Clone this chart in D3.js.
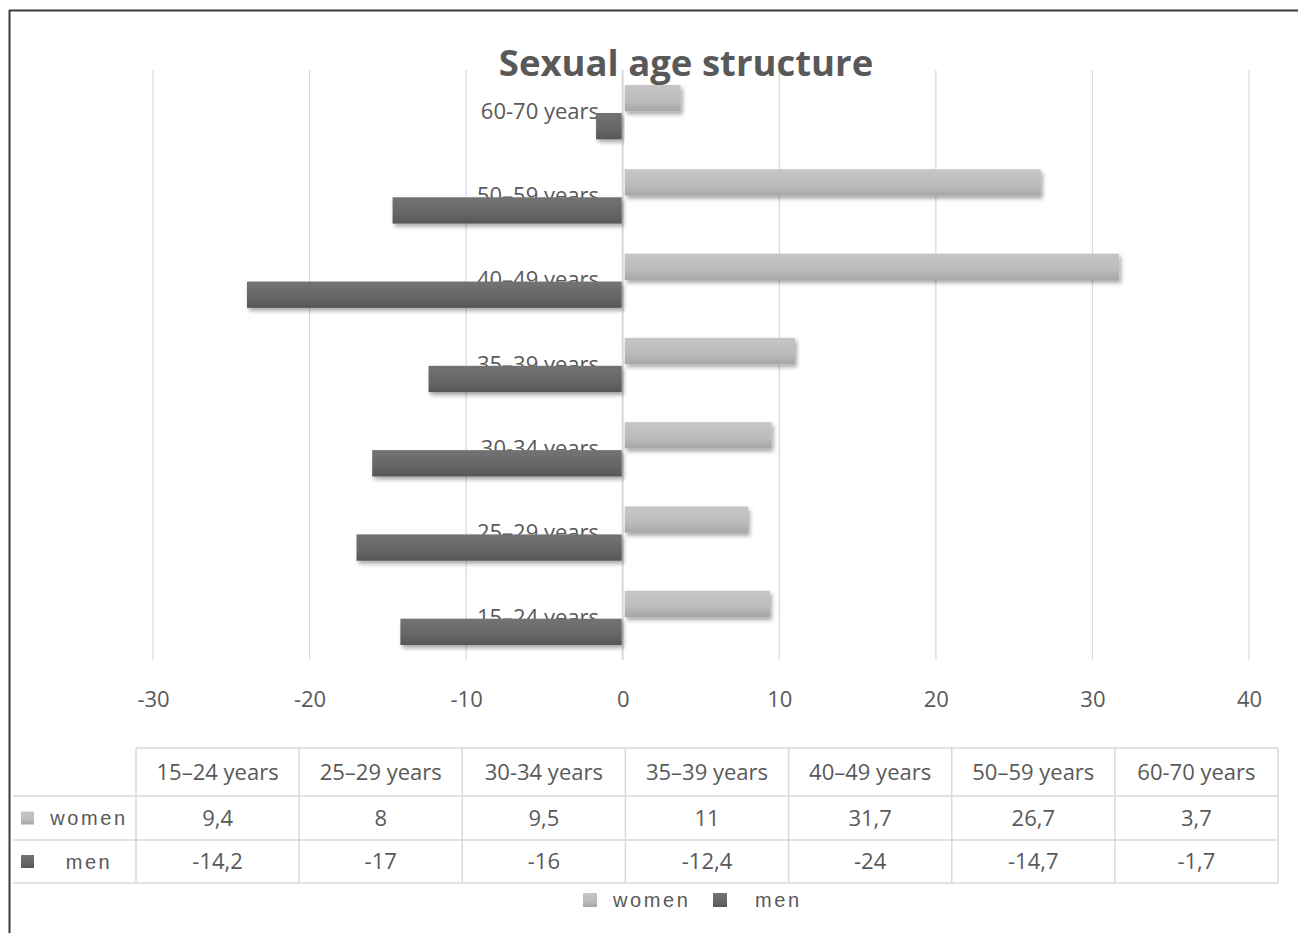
<!DOCTYPE html>
<html>
<head>
<meta charset="utf-8">
<script src="https://cdn.jsdelivr.net/npm/d3@7"></script>
<style>
html,body{margin:0;padding:0;background:#fff;}
svg{display:block;}
</style>
</head>
<body>
<svg id="chart" width="1298" height="933"></svg>
<script>
// ---- data ----
const categories = ["15\u201324 years","25\u201329 years","30-34 years","35\u201339 years","40\u201349 years","50\u201359 years","60-70 years"];
const women = [9.4, 8, 9.5, 11, 31.7, 26.7, 3.7];
const men = [-14.2, -17, -16, -12.4, -24, -14.7, -1.7];
const seriesNames = ["women","men"];
const xTicks = [-30,-20,-10,0,10,20,30,40];
const title = "Sexual age structure";

const svg = d3.select("#chart");
const txtColor = "#595959";
const gridColor = "#d9d9d9";
const FS = "22px";

// defs: gradients + shadow
const defs = svg.append("defs");
const gW = defs.append("linearGradient").attr("id","gW").attr("x1",0).attr("y1",0).attr("x2",0).attr("y2",1);
gW.append("stop").attr("offset","0%").attr("stop-color","#c6c6c6");
gW.append("stop").attr("offset","60%").attr("stop-color","#bcbcbc");
gW.append("stop").attr("offset","100%").attr("stop-color","#a6a6a6");
const gM = defs.append("linearGradient").attr("id","gM").attr("x1",0).attr("y1",0).attr("x2",0).attr("y2",1);
gM.append("stop").attr("offset","0%").attr("stop-color","#737373");
gM.append("stop").attr("offset","60%").attr("stop-color","#666666");
gM.append("stop").attr("offset","100%").attr("stop-color","#565656");
const f = defs.append("filter").attr("id","sh").attr("x","-10%").attr("y","-30%").attr("width","120%").attr("height","170%");
f.append("feDropShadow").attr("dx",2).attr("dy",3).attr("stdDeviation",2).attr("flood-color","#000").attr("flood-opacity",0.35);

// border
svg.append("line").attr("x1",9).attr("x2",1298).attr("y1",10.5).attr("y2",10.5).attr("stroke","#3a3a3a").attr("stroke-width",2);
svg.append("line").attr("x1",9.5).attr("x2",9.5).attr("y1",10).attr("y2",933).attr("stroke","#3a3a3a").attr("stroke-width",2);

// scales
const x = d3.scaleLinear().domain([-30,40]).range([153,1249]);
const yTop = 70, yBot = 660;
const y0 = d3.scaleBand().domain(categories.slice().reverse()).range([yTop,yBot]);
const y1 = d3.scaleBand().domain(seriesNames).range([15, y0.bandwidth()-15]).paddingInner(0.06);

// gridlines
svg.append("g").selectAll("line").data(xTicks).join("line")
  .attr("x1",d=>x(d)).attr("x2",d=>x(d)).attr("y1",yTop).attr("y2",yBot)
  .attr("stroke",gridColor).attr("stroke-width",d=>d===0?2:1.2);

// tick labels via axis
const ax = svg.append("g").attr("transform",`translate(0,${yBot})`)
  .call(d3.axisBottom(x).tickValues(xTicks).tickSize(0).tickPadding(31).tickFormat(d=>String(d)));
ax.select(".domain").remove();
ax.selectAll("text").attr("fill",txtColor).style("font-family","'Open Sans'").style("font-size",FS);

// title
svg.append("text").attr("x",686).attr("y",76).attr("text-anchor","middle")
  .attr("fill",txtColor).style("font-family","'Open Sans'").style("font-weight","bold").style("font-size","36.5px")
  .text(title);

// category labels (under bars)
svg.append("g").selectAll("text").data(categories).join("text")
  .attr("x",599).attr("y",d=>y0(d)+y0.bandwidth()/2 - 1).attr("dy","0.35em")
  .attr("text-anchor","end").attr("fill",txtColor)
  .style("font-family","'Open Sans'").style("font-size",FS).text(d=>d);

// bars
const rows = categories.map((c,i)=>({c, women:women[i], men:men[i]}));
const bars = svg.append("g");
seriesNames.forEach(s=>{
  bars.selectAll("rect."+s).data(rows).join("rect").attr("class",s)
    .attr("x",d=>s==="women"? x(0)+2 : x(d[s]))
    .attr("width",d=>s==="women"? x(d[s])-x(0)-2 : x(0)-1-x(d[s]))
    .attr("y",d=>y0(d.c)+y1(s))
    .attr("height",y1.bandwidth())
    .attr("fill",s==="women"?"url(#gW)":"url(#gM)")
    .attr("filter","url(#sh)");
});

// data table
const tTop=748, tH=796, tR1=840, tBot=883, tLeft=136, tRight=1278;
const col = d3.scaleBand().domain(categories).range([tLeft,tRight]);
const tg = svg.append("g");
tg.append("line").attr("x1",tLeft).attr("x2",tRight).attr("y1",tTop).attr("y2",tTop).attr("stroke",gridColor).attr("stroke-width",1.5);
[tH,tR1,tBot].forEach(yy=>tg.append("line").attr("x1",13).attr("x2",tRight).attr("y1",yy).attr("y2",yy).attr("stroke",gridColor).attr("stroke-width",1.5));
const vx = categories.map(c=>col(c)).concat([tRight]);
tg.selectAll("line.v").data(vx).join("line").attr("class","v")
  .attr("x1",d=>d).attr("x2",d=>d).attr("y1",tTop).attr("y2",tBot).attr("stroke",gridColor).attr("stroke-width",1.5);
tg.selectAll("text.h").data(categories).join("text").attr("class","h")
  .attr("x",d=>col(d)+col.bandwidth()/2).attr("y",(tTop+tH)/2).attr("dy","0.35em")
  .attr("text-anchor","middle").attr("fill",txtColor)
  .style("font-family","'Open Sans'").style("font-size",FS).text(d=>d);
const fmt = v => String(v).replace(".",",");
[[women,(tH+tR1)/2],[men,(tR1+tBot)/2]].forEach(([arr,cy])=>{
  tg.append("g").selectAll("text").data(arr).join("text")
    .attr("x",(d,i)=>col(categories[i])+col.bandwidth()/2).attr("y",cy).attr("dy","0.35em")
    .attr("text-anchor","middle").attr("fill",txtColor)
    .style("font-family","'Open Sans'").style("font-size",FS).text(d=>fmt(d));
});
// row labels with keys
const keyFill = {women:"url(#gW)", men:"url(#gM)"};
[["women",(tH+tR1)/2],["men",(tR1+tBot)/2]].forEach(([s,cy])=>{
  tg.append("rect").attr("x",21).attr("y",cy-6.5).attr("width",13).attr("height",13).attr("fill",keyFill[s]);
  tg.append("text").attr("x",89).attr("y",cy).attr("dy","0.35em").attr("text-anchor","middle")
    .attr("fill",txtColor).style("font-family","'Liberation Sans'").style("font-size","20px").style("letter-spacing","2.6px").text(s);
});

// legend
const lg = svg.append("g");
const legendItems = [{s:"women",kx:583,tx:613},{s:"men",kx:713,tx:755}];
legendItems.forEach(it=>{
  lg.append("rect").attr("x",it.kx).attr("y",893).attr("width",14).attr("height",14).attr("fill",keyFill[it.s]);
  lg.append("text").attr("x",it.tx).attr("y",900).attr("dy","0.35em").attr("fill",txtColor)
    .style("font-family","'Liberation Sans'").style("font-size","20px").style("letter-spacing","2.6px").text(it.s);
});
</script>
</body>
</html>
